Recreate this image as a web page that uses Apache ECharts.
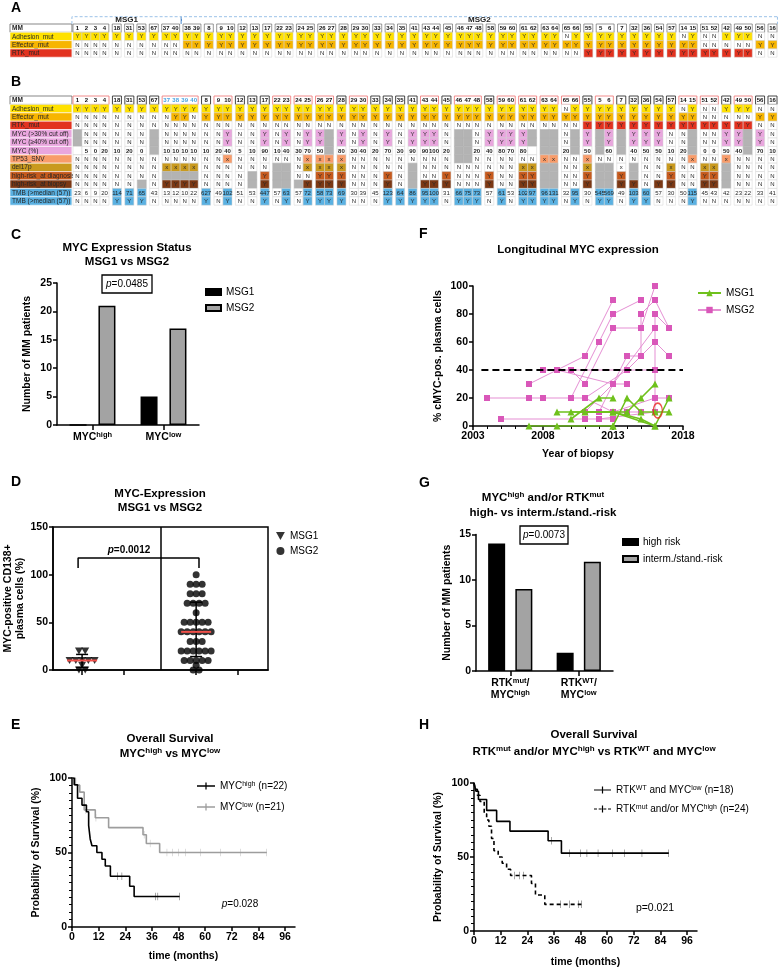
<!DOCTYPE html>
<html>
<head>
<meta charset="utf-8">
<title>MYC / RTK multi-panel figure</title>
<script src="https://cdn.jsdelivr.net/npm/echarts@6.0.0/dist/echarts.min.js"></script>
<style>
html,body{margin:0;padding:0;background:#fff;}
#chart{width:778px;height:970px;}
</style>
</head>
<body>
<div id="chart"></div>
<script>
// ================= DATA =================
// Panel A / B : patient columns (grouped by patient)
const mmGroupsB = [[1,2,3,4],[18],[31],[53],[67],[37,38,39,40],[8],[9,10],[12],[13],[17],[22,23],[24,25],[26,27],[28],[29,30],[33],[34],[35],[41],[43,44],[45],[46,47,48],[58],[59,60],[61,62],[63,64],[65,66],[55],[5,6],[7],[32],[36],[54],[57],[14,15],[51,52],[42],[49,50],[56],[16]];
const mmGroupsA = [[1,2,3,4],[18],[31],[53],[67],[37,40],[38,39],[8],[9,10],[12],[13],[17],[22,23],[24,25],[26,27],[28],[29,30],[33],[34],[35],[41],[43,44],[45],[46,47,48],[58],[59,60],[61,62],[63,64],[65,66],[55],[5,6],[7],[32],[36],[54],[57],[14,15],[51,52],[42],[49,50],[56],[16]];
const msg1Ids = [1,2,3,4,18,31,53,67,37,40];
const rowLabelsA = ['Adhesion_mut','Effector_mut','RTK_mut'];
const rowLabelsB = ['Adhesion_mut','Effector_mut','RTK_mut','MYC (>30% cut off)','MYC (\u226540% cut off)','MYC (%)','TP53_SNV','del17p','high-risk_at diagnosis','high-risk_at biopsy','TMB (>median (57))','TMB (>median (57))'];
// values in panel-B column order ('G' = not available, '' = empty)
const adhesionMut = ['Y','Y','Y','Y','Y','Y','Y','Y','Y','Y','Y','Y',
 'Y','Y','Y','Y','Y','Y',
 'Y','Y','Y','Y','Y','Y','Y','Y','Y',
 'Y','Y','Y','Y','Y','Y','Y',
 'Y','Y','Y','Y','Y','Y','Y','Y','Y','Y','N','Y',
 'Y','Y','Y','Y','Y','Y','Y','Y',
 'N','Y','N','N','Y','Y','Y','N','N'];
const effectorMut = ['N','N','N','N','N','N','N','N','N','Y','Y','N',
 'Y','Y','Y','Y','Y','Y',
 'Y','Y','Y','Y','Y','Y','Y','Y','Y',
 'Y','Y','Y','Y','Y','Y','Y',
 'Y','Y','Y','Y','Y','Y','Y','Y','Y','Y','Y','Y',
 'Y','Y','Y','Y','Y','Y','Y','Y',
 'Y','Y','N','N','N','N','N','Y','Y'];
const rtkMut = ['N','N','N','N','N','N','N','N','N','N','N','N',
 'N','N','N','N','N','N',
 'N','N','N','N','N','N','N','N','N',
 'N','N','N','N','N','N','N',
 'N','N','N','N','N','N','N','N','N','N','N','N',
 'Y','Y','Y','Y','Y','Y','Y','Y',
 'Y','Y','Y','Y','Y','Y','Y','N','N'];
const myc30 = ['G','N','N','N','N','N','N','G','N','N','N','N',
 'N','N','Y','N','N','Y',
 'N','Y','N','Y','Y','G','Y','N','Y',
 'N','Y','N','Y','Y','Y','N',
 'G','G','N','Y','Y','Y','Y','G','G','G','N','G',
 'Y','G','Y','G','Y','Y','Y','N',
 'N','G','N','N','Y','Y','G','Y','N'];
const myc40 = ['G','N','N','N','N','N','N','G','N','N','N','N',
 'N','N','Y','N','N','Y',
 'N','Y','N','Y','Y','G','Y','N','Y',
 'N','Y','N','Y','Y','Y','N',
 'G','G','N','Y','Y','Y','Y','G','G','G','N','G',
 'Y','G','Y','G','Y','Y','Y','N',
 'N','G','N','N','Y','Y','G','Y','N'];
const mycPct = ['','5','0','20','10','20','0','G','10','10','10','10',
 '10','20','40','5','10','90',
 '10','40','30','70','50','G','80','30','40',
 '20','70','30','90','90','100','20',
 'G','G','20','40','80','70','80','','G','G','20','G',
 '50','G','60','G','40','50','50','10',
 '20','G','0','0','50','40','G','70','10'];
const tp53 = ['N','N','N','N','N','N','N','N','N','N','N','N',
 'N','N','x','N','N','N',
 'N','N','N','x','x','x','x','N','N',
 'N','N','N','N','N','N','N',
 'G','G','N','N','N','N','N','N','x','x','N','N',
 'x','N','N','N','N','N','N','N',
 'N','x','N','N','x','N','N','N','N'];
const del17p = ['N','N','N','N','N','N','N','N','x','x','x','x',
 'N','N','N','N','N','N',
 'G','G','N','x','x','x','x','N','N',
 'N','N','N','G','N','N','N',
 'N','N','N','N','N','N','x','x','G','G','N','N',
 'x','G','G','X','G','N','N','x',
 'N','N','x','x','G','N','N','N','N'];
const hrDiag = ['N','N','N','N','N','N','N','N','G','G','G','G',
 'N','N','N','N','G','Y',
 'G','G','N','N','Y','Y','Y','N','N',
 'N','Y','N','G','N','N','Y',
 'N','N','N','Y','N','N','Y','Y','G','G','N','N',
 'Y','G','G','Y','G','N','N','Y',
 'N','N','Y','Y','G','N','N','N','N'];
const hrBiopsy = ['N','N','N','N','N','N','G','N','Y','Y','Y','Y',
 'N','N','N','N','G','Y',
 'G','G','G','Y','Y','Y','Y','N','N',
 'N','Y','N','G','Y','Y','Y',
 'N','N','N','Y','N','N','Y','Y','G','G','N','N',
 'Y','G','G','Y','Y','N','Y','Y',
 'N','N','Y','Y','G','N','N','N','N'];
const tmb = [23,6,9,20,114,71,65,43,13,12,10,22,
 627,49,102,51,53,447,
 57,63,57,72,58,73,69,30,39,
 45,123,64,86,95,100,31,
 66,75,73,57,61,53,102,97,96,131,32,95,
 30,545,569,49,103,60,57,30,
 50,115,45,43,42,23,22,33,41];
const tmbMedian = 57;

// Panel C
const cCats = ['high','low'];
const cMsg1 = [0,5];
const cMsg2 = [21,17];
// Panel D
const dMsg1 = [5,0,20,10,20,0,10,10,10,10];
const dMsg2 = [10,20,40,5,10,90,10,40,30,70,50,80,30,40,20,70,30,90,90,100,20,20,40,80,70,80,20,50,60,40,50,50,10,20,0,0,50,40,70,10];
const dGroupX = [1,3];
// Panel E  (drops: [month, survival %], censored: months)
const eHighDrops = [[1,95.5],[2.5,86.4],[4.5,81.8],[6.5,77.3],[7.5,68.2],[8.2,59.1],[9,54.5],[11.2,50],[13.5,45.5],[15,40.9],[17.3,34.1],[26,27.3],[28,20.5]];
const eHighCens = [20.5,22.5,37.5,38.7,48.5];
const eLowDrops = [[1.5,95.2],[3.5,90.5],[5.5,78.6],[10.5,73.3],[16.5,66.7],[32,61.9],[33.5,56],[39.5,50]];
const eLowCens = [6.2,10.8,32.5,35.2,42.8,45.3,48,51.3,57.8,66.8,75.8,87.8];
const kmTicks = [0,12,24,36,48,60,72,84,96];
// Panel F  (trajectories: [year, % cMYC+])
const fMsg2 = [
 [[2004,20],[2007,20],[2008,20],[2010,20],[2011,20],[2013,10],[2016,20],[2017,20]],
 [[2005,5],[2011,5],[2012,5],[2013,5]],
 [[2007,30],[2011,50],[2013,90]],
 [[2008,40],[2009,40],[2013,30],[2014,30]],
 [[2010,40],[2011,30],[2013,70],[2015,70],[2016,100]],
 [[2009,40],[2014,40],[2016,40]],
 [[2010,20],[2012,60],[2013,80],[2015,90]],
 [[2011,10],[2013,30],[2016,70]],
 [[2012,10],[2014,50],[2015,50],[2015,70],[2015,80],[2016,90],[2017,70]],
 [[2011,20],[2014,40],[2016,60],[2017,50]],
 [[2012,5],[2016,10],[2016,20],[2016,40],[2016,80],[2017,70]],
 [[2013,10],[2014,10],[2015,10]]
];
const fMsg1 = [
 [[2007,0],[2009,0],[2013,0]],
 [[2009,10],[2013,10],[2016,0]],
 [[2010,5],[2012,20],[2013,20]],
 [[2010,10],[2014,10],[2015,20],[2016,30]],
 [[2011,10],[2013,10],[2015,5],[2016,0],[2017,20]],
 [[2013,0],[2014,20],[2015,10],[2016,10],[2017,10]]
];
const fThreshold = 40;
const fHighlight = [[2016.2,11]];
// Panel G
const gCats = ['mut|high','WT|low'];
const gHigh = [14,2];
const gInterm = [9,12];
// Panel H
const hWtDrops = [[0.9,94.4],[2,88.9],[5.7,81.5],[10.2,74.1],[16.2,67.5],[33.4,61],[39.4,52.6]];
const hWtCens = [34.9,43.1,47.9,50.9,55.9,62.3,67.9,75.7,87.8];
const hMutDrops = [[0.5,95.8],[1.5,91.7],[2.7,87.5],[4.6,79.2],[5.7,75],[6.7,70.8],[7.9,62.5],[9,54.2],[10.9,50],[12.7,45.8],[14.7,41.7],[16.5,37.5],[25.9,32.1],[27.7,24.3],[31.9,18]];
const hMutCens = [18.4,20.4,22.2,38.9,43.1,47.2,48.4];

// ================= HELPERS =================
const FONT = '"Liberation Sans", Arial, Helvetica, sans-serif';
const GAP = 0.38, DATA_PX = 704, LABEL_PX = 63;
const ROW_FILL = ['#ffffff','#ffe100','#f7b500','#e2321f','#e9a6de','#e9a6de','#e9a6de','#f89c6a','#c99a1e','#c65a1d','#7b3814','#5ab1e2','#5ab1e2'];
const GRAY = '#b3b3b3';
const TICK_SYMBOL = 'path://M0,0h3v14h-3z';
const TRI_DOWN = 'path://M0,0L10,0L5,9Z';
const LEG_SOLID = 'path://M0,4.3h20v1.4h-20zM9.3,1h1.4v8h-1.4z';
const LEG_DASH = 'path://M0,4.3h3.5v1.4h-3.5zM5.5,4.3h3.5v1.4h-3.5zM11,4.3h3.5v1.4h-3.5zM16.5,4.3h3.5v1.4h-3.5zM9.3,1h1.4v8h-1.4z';

function layoutCols(groups){
  const pos = {}, gl = [], ids = []; let x = 0;
  groups.forEach((g, gi) => {
    const start = x;
    g.forEach(id => { pos[id] = x; ids.push(id); x += 1; });
    gl.push({start, ids: g});
    if (gi < groups.length - 1) x += GAP;
  });
  return {pos, groups: gl, ids, total: x};
}
function cellSpec(ri, v){
  if (v === 'G') return {fill: GRAY, stroke: GRAY, t: ''};
  if (v === '') return {fill: '#fff', t: ''};
  if (ri === 6) return {fill: '#fff', t: String(v), bold: true};
  if (ri === 11) return {fill: v > tmbMedian ? ROW_FILL[11] : '#fff', t: String(v)};
  if (v === 'Y' || v === 'x') return {fill: ROW_FILL[ri], t: v};
  if (v === 'X') return {fill: '#fff', t: 'x'};
  return {fill: '#fff', t: v};
}
function buildTable(groups, labels, rows, hdr){
  const L = layoutCols(groups);
  const ppu = DATA_PX / L.total;
  const xmin = -LABEL_PX / ppu;
  const cells = [], data = [];
  const add = (x0, r, info) => { cells.push(info); data.push([x0, r, cells.length - 1]); };
  const labW = -0.12 - xmin;
  add(xmin, 0, {w: labW, fill: '#fff', stroke: '#555', lw: 0.7, texts: [{left: true, t: 'MM', bold: true, size: 6.5}]});
  L.groups.forEach(g => {
    add(g.start, 0, {w: g.ids.length, fill: '#fff', stroke: hdr.stroke(g.ids), lw: hdr.lw,
      texts: g.ids.map((id, k) => ({u: g.start + k + 0.5, t: String(id), bold: true, color: hdr.color(id)}))});
  });
  rows.forEach((row, k) => {
    const r = k + 1;
    add(xmin, r, {w: labW, fill: ROW_FILL[row.style], stroke: '#fff', lw: 0.6, texts: [{left: true, t: labels[k], size: 6.5}]});
    row.vals.forEach((v, i) => {
      const id = L.ids[i];
      const s = cellSpec(row.style, v);
      add(L.pos[id], r, {w: 1, fill: s.fill, stroke: s.stroke || '#d2d2d2', lw: 0.5,
        texts: s.t ? [{u: L.pos[id] + 0.5, t: s.t, bold: s.bold}] : []});
    });
  });
  return {L, xmin, cells, data, add};
}
function cellRenderer(cells){
  return function(params, api){
    const c = cells[api.value(2)];
    const x0 = api.value(0), r = api.value(1);
    const a = api.coord([x0, r]), b = api.coord([x0 + c.w, r + 1]);
    const w = b[0] - a[0], h = b[1] - a[1];
    const ch = [];
    if (c.bracket) {
      ch.push({type: 'polyline', shape: {points: [[a[0], b[1]], [a[0], a[1] + 1], [b[0], a[1] + 1]]},
        style: {stroke: '#9cc2e8', lineWidth: 1, lineDash: [3, 2], fill: 'none'}});
      if (c.bracket === 'solidRight') ch.push({type: 'line', shape: {x1: b[0], y1: a[1] + 1, x2: b[0], y2: b[1]}, style: {stroke: '#4f86c6', lineWidth: 1.3}});
      else ch.push({type: 'line', shape: {x1: b[0], y1: a[1] + 1, x2: b[0], y2: b[1]}, style: {stroke: '#9cc2e8', lineWidth: 1, lineDash: [3, 2]}});
    } else {
      ch.push({type: 'rect', shape: {x: a[0], y: a[1], width: w, height: h}, style: {fill: c.fill, stroke: c.stroke, lineWidth: c.lw}});
    }
    (c.texts || []).forEach(t => {
      const cx = t.left ? a[0] + 2 : api.coord([t.u, r])[0];
      ch.push({type: 'text', x: cx, y: a[1] + h / 2 + 0.3,
        style: {text: t.t, fill: t.color || '#262626', font: (t.bold ? 'bold ' : '') + (t.size || 6) + 'px ' + FONT,
          align: t.left ? 'left' : 'center', verticalAlign: 'middle'}});
    });
    return {type: 'group', children: ch};
  };
}

// ----- build tables -----
const idsB = mmGroupsB.flat();
const idxB = {}; idsB.forEach((id, i) => { idxB[id] = i; });
const tmbYN = tmb.map(v => v > tmbMedian ? 'Y' : 'N');
const tableB = buildTable(mmGroupsB, rowLabelsB, [
  {style: 1, vals: adhesionMut}, {style: 2, vals: effectorMut}, {style: 3, vals: rtkMut},
  {style: 4, vals: myc30}, {style: 5, vals: myc40}, {style: 6, vals: mycPct},
  {style: 7, vals: tp53}, {style: 8, vals: del17p}, {style: 9, vals: hrDiag}, {style: 10, vals: hrBiopsy},
  {style: 11, vals: tmb}, {style: 12, vals: tmbYN}
], {stroke: ids => ids.length > 1 ? '#ef8080' : '#333', lw: 0.9, color: id => (id >= 37 && id <= 40) ? '#4aa3e0' : '#111'});
const idsA = mmGroupsA.flat();
const pick = arr => idsA.map(id => arr[idxB[id]]);
const tableA = buildTable(mmGroupsA, rowLabelsA, [
  {style: 1, vals: pick(adhesionMut)}, {style: 2, vals: pick(effectorMut)}, {style: 3, vals: pick(rtkMut)}
], {stroke: () => '#555', lw: 0.6, color: () => '#111'});
// MSG brackets (row -1 of table A)
(function(){
  const L = tableA.L;
  const firstMsg2 = L.ids.find(id => msg1Ids.indexOf(id) < 0);
  const div = L.pos[firstMsg2] - GAP / 2;
  const s1 = -0.12, e2 = L.total + 0.05;
  tableA.add(s1, -1, {w: div - s1, bracket: 'solidRight', texts: [{u: (s1 + div) / 2, t: 'MSG1', bold: true, size: 8, color: '#222'}]});
  tableA.add(div, -1, {w: e2 - div, bracket: 'dashedRight', texts: [{u: (div + e2) / 2, t: 'MSG2', bold: true, size: 8, color: '#222'}]});
})();

// ----- panel D helpers -----
function swarm(vals, cx, step){
  const cnt = {}, seen = {};
  vals.forEach(v => { cnt[v] = (cnt[v] || 0) + 1; });
  return vals.map(v => { const k = seen[v] = (seen[v] === undefined ? 0 : seen[v] + 1); return [cx + (k - (cnt[v] - 1) / 2) * step, v]; });
}
const mean = a => a.reduce((s, v) => s + v, 0) / a.length;
const sd = a => { const m = mean(a); return Math.sqrt(a.reduce((s, v) => s + (v - m) * (v - m), 0) / (a.length - 1)); };
const median = a => { const s = a.slice().sort((x, y) => x - y); const n = s.length; return n % 2 ? s[(n - 1) / 2] : (s[n / 2 - 1] + s[n / 2]) / 2; };
const dXmin = 0.49, dXmax = 4.26;
const dTicks = [1, 1.735, 3, 3.735];
const dBracket = [[0.93, 107], [0.93, 117.5], [3.05, 117.5], [3.05, 107]];

// ----- KM helper -----
function kmData(drops, cens){
  const ev = drops.map(d => ({t: d[0], s: d[1]})).concat(cens.map(t => ({t, c: true}))).sort((a, b) => a.t - b.t);
  let cur = 100; const out = [{value: [0, 100], symbol: 'none'}];
  ev.forEach(e => { if (e.c) out.push({value: [e.t, cur]}); else { cur = e.s; out.push({value: [e.t, cur], symbol: 'none'}); } });
  return out;
}

// ----- axes helpers -----
function merge(base, extra){
  const o = JSON.parse(JSON.stringify(base));
  Object.keys(extra || {}).forEach(k => {
    const v = extra[k];
    if (v && typeof v === 'object' && !Array.isArray(v) && typeof o[k] === 'object' && o[k] && !Array.isArray(o[k])) o[k] = Object.assign({}, o[k], v);
    else o[k] = v;
  });
  return o;
}
const AXB = {
  axisLine: {show: true, onZero: false, lineStyle: {color: '#000', width: 1.5}},
  axisTick: {show: true, inside: false, length: 4, lineStyle: {color: '#000', width: 1.5}},
  axisLabel: {show: true, color: '#000', fontSize: 10.5, fontWeight: 'bold', fontFamily: FONT, margin: 5},
  splitLine: {show: false},
  nameTextStyle: {color: '#000', fontSize: 10.5, fontWeight: 'bold', fontFamily: FONT, lineHeight: 12}
};
const ax = (gi, extra) => Object.assign(merge(AXB, extra), {gridIndex: gi});
const RICH = {
  b: {fontSize: 10.5, fontWeight: 'bold', fontFamily: FONT, color: '#000', lineHeight: 12},
  s: {fontSize: 7.5, fontFamily: FONT, color: '#000', verticalAlign: 'top', lineHeight: 12}
};

const xAxes = [
  {gridIndex: 0, type: 'value', min: tableA.xmin, max: tableA.L.total, show: false},
  {gridIndex: 1, type: 'value', min: tableB.xmin, max: tableB.L.total, show: false},
  ax(2, {type: 'category', data: cCats, axisTick: {alignWithLabel: true, length: 5}, axisLabel: {margin: 6, interval: 0}}),
  ax(3, {type: 'value', min: dXmin, max: dXmax, axisLabel: {show: false}, axisTick: {customValues: dTicks, length: 5}}),
  ax(4, {type: 'value', min: 0, max: 100.5, axisLabel: {customValues: kmTicks}, axisTick: {customValues: kmTicks}, name: 'time (months)', nameLocation: 'middle', nameGap: 23}),
  ax(5, {type: 'value', min: 2003, max: 2018, interval: 5, minorTick: {show: true, splitNumber: 5, length: 3, lineStyle: {color: '#000', width: 1}}, name: 'Year of biopsy', nameLocation: 'middle', nameGap: 22}),
  ax(6, {type: 'category', data: gCats, axisTick: {alignWithLabel: true, length: 5}, axisLabel: {margin: 6, interval: 0}}),
  ax(7, {type: 'value', min: 0, max: 100.5, axisLabel: {customValues: kmTicks}, axisTick: {customValues: kmTicks}, name: 'time (months)', nameLocation: 'middle', nameGap: 25})
];
xAxes[2].axisLabel.formatter = v => '{b|MYC}{s|' + v + '}';
xAxes[2].axisLabel.rich = RICH;
xAxes[5].axisLabel.formatter = v => String(v);
xAxes[6].axisLabel.formatter = v => { const p = v.split('|'); return '{b|RTK}{s|' + p[0] + '}{b|/}\n{b|MYC}{s|' + p[1] + '}'; };
xAxes[6].axisLabel.rich = RICH;
const kmY = {type: 'value', min: 0, max: 100, interval: 50, minorTick: {show: true, splitNumber: 10, length: 3, lineStyle: {color: '#000', width: 1}}, name: 'Probability of Survival (%)', nameLocation: 'middle', nameGap: 30};
const yAxes = [
  {gridIndex: 0, type: 'value', min: -1, max: 4, inverse: true, show: false},
  {gridIndex: 1, type: 'value', min: 0, max: 13, inverse: true, show: false},
  ax(2, {type: 'value', min: 0, max: 25, interval: 5, name: 'Number of MM patients', nameLocation: 'middle', nameGap: 24}),
  ax(3, {type: 'value', min: 0, max: 150, interval: 50, name: 'MYC-positive CD138+\nplasma cells (%)', nameLocation: 'middle', nameGap: 26}),
  ax(4, kmY),
  ax(5, {type: 'value', min: 0, max: 100, interval: 20, name: '% cMYC-pos. plasma cells', nameLocation: 'middle', nameGap: 29}),
  ax(6, {type: 'value', min: 0, max: 15, interval: 5, name: 'Number of MM patients', nameLocation: 'middle', nameGap: 23}),
  ax(7, kmY)
];

// ----- series -----
const series = [];
series.push({type: 'custom', name: 'tableA', xAxisIndex: 0, yAxisIndex: 0, data: tableA.data, encode: {x: 0, y: 1}, renderItem: cellRenderer(tableA.cells), clip: false, silent: true});
series.push({type: 'custom', name: 'tableB', xAxisIndex: 1, yAxisIndex: 1, data: tableB.data, encode: {x: 0, y: 1}, renderItem: cellRenderer(tableB.cells), clip: false, silent: true});
// C
series.push({type: 'bar', name: 'MSG1', xAxisIndex: 2, yAxisIndex: 2, data: cMsg1, barWidth: 17, barGap: '70%', itemStyle: {color: '#000', borderColor: '#000', borderWidth: 1.5}});
series.push({type: 'bar', name: 'MSG2', xAxisIndex: 2, yAxisIndex: 2, data: cMsg2, barWidth: 17, barGap: '70%', itemStyle: {color: '#a3a3a3', borderColor: '#000', borderWidth: 1.5}});
// D
const dStats = [[dGroupX[0], mean(dMsg1), sd(dMsg1), median(dMsg1)], [dGroupX[1], mean(dMsg2), sd(dMsg2), median(dMsg2)]];
series.push({type: 'custom', name: 'errbar', xAxisIndex: 3, yAxisIndex: 3, data: dStats, encode: {x: 0, y: 1}, silent: true, z: 2,
  renderItem: (p, api) => {
    const x = api.value(0), m = api.value(1), s = api.value(2);
    const t = api.coord([x, m + s]), b = api.coord([x, Math.max(0, m - s)]);
    const st = {stroke: '#000', lineWidth: 1.5};
    return {type: 'group', children: [
      {type: 'line', shape: {x1: t[0], y1: t[1], x2: b[0], y2: b[1]}, style: st},
      {type: 'line', shape: {x1: t[0] - 6, y1: t[1], x2: t[0] + 6, y2: t[1]}, style: st},
      {type: 'line', shape: {x1: b[0] - 6, y1: b[1], x2: b[0] + 6, y2: b[1]}, style: st}
    ]};
  }});
series.push({type: 'scatter', name: 'MSG1 ', xAxisIndex: 3, yAxisIndex: 3, data: swarm(dMsg1, dGroupX[0], 0.11), symbol: TRI_DOWN, symbolSize: [8, 7], itemStyle: {color: '#000'}, z: 3});
series.push({type: 'scatter', name: 'MSG2 ', xAxisIndex: 3, yAxisIndex: 3, data: swarm(dMsg2, dGroupX[1], 0.105), symbol: 'circle', symbolSize: 7, itemStyle: {color: '#000'}, z: 3});
series.push({type: 'custom', name: 'median', xAxisIndex: 3, yAxisIndex: 3, data: dStats.map(r => [r[0], r[3]]), encode: {x: 0, y: 1}, silent: true, z: 4,
  renderItem: (p, api) => { const c = api.coord([api.value(0), api.value(1)]); return {type: 'line', shape: {x1: c[0] - 15, y1: c[1], x2: c[0] + 15, y2: c[1]}, style: {stroke: '#f0504a', lineWidth: 2}}; }});
series.push({type: 'line', name: 'pbracket', xAxisIndex: 3, yAxisIndex: 3, data: dBracket, symbol: 'none', silent: true, lineStyle: {color: '#000', width: 1.5}, z: 2,
  markLine: {silent: true, symbol: ['none', 'none'], label: {show: false}, lineStyle: {color: '#000', width: 1.5, type: 'solid'}, data: [{xAxis: (dXmin + dXmax) / 2}]}});
// E
const kmSeries = (name, xi, drops, cens, color, dash, z) => ({type: 'line', name, xAxisIndex: xi, yAxisIndex: xi, step: 'end', data: kmData(drops, cens),
  symbol: TICK_SYMBOL, symbolKeepAspect: true, symbolSize: [1.6, 7.5], showSymbol: true,
  lineStyle: {color, width: 1.6, type: dash || 'solid'}, itemStyle: {color}, z});
series.push(kmSeries('MYChigh (n=22)', 4, eHighDrops, eHighCens, '#000', null, 3));
series.push(kmSeries('MYClow (n=21)', 4, eLowDrops, eLowCens, '#9d9d9d', null, 2));
// F
fMsg2.forEach(tr => series.push({type: 'line', name: 'MSG2  ', xAxisIndex: 5, yAxisIndex: 5, data: tr, symbol: 'rect', symbolSize: 6, lineStyle: {color: '#e58fd3', width: 1}, itemStyle: {color: '#d957b9'}, z: 2}));
fMsg1.forEach(tr => series.push({type: 'line', name: 'MSG1  ', xAxisIndex: 5, yAxisIndex: 5, data: tr, symbol: 'triangle', symbolSize: 7, lineStyle: {color: '#6fc11c', width: 1.6}, itemStyle: {color: '#6fc11c'}, z: 4}));
series.push({type: 'scatter', name: 'highlight', xAxisIndex: 5, yAxisIndex: 5, data: fHighlight, symbol: 'circle', symbolSize: [9, 15], silent: true, z: 5,
  itemStyle: {color: 'rgba(0,0,0,0)', borderColor: '#e8261f', borderWidth: 1.5},
  markLine: {silent: true, symbol: ['none', 'none'], label: {show: false}, lineStyle: {color: '#000', width: 2, type: [7, 4]}, data: [[{coord: [2003.6, fThreshold]}, {coord: [2018, fThreshold]}]]}});
// G
series.push({type: 'bar', name: 'high risk', xAxisIndex: 6, yAxisIndex: 6, data: gHigh, barWidth: 17, barGap: '60%', itemStyle: {color: '#000', borderColor: '#000', borderWidth: 1.5}});
series.push({type: 'bar', name: 'interm./stand.-risk', xAxisIndex: 6, yAxisIndex: 6, data: gInterm, barWidth: 17, barGap: '60%', itemStyle: {color: '#a3a3a3', borderColor: '#000', borderWidth: 1.5}});
// H
series.push(kmSeries('RTKWT and MYClow (n=18)', 7, hWtDrops, hWtCens, '#000', null, 3));
series.push(kmSeries('RTKmut and/or MYChigh (n=24)', 7, hMutDrops, hMutCens, '#000', [4, 3], 3));

// ----- legends -----
const LT = {fontSize: 10, fontFamily: FONT, color: '#000'};
const legRich = {t: {fontSize: 10, fontFamily: FONT, color: '#000'}, s: {fontSize: 7, fontFamily: FONT, color: '#000', verticalAlign: 'top'}};
const legMap = {
  'MYChigh (n=22)': '{t|MYC}{s|high}{t| (n=22)}',
  'MYClow (n=21)': '{t|MYC}{s|low}{t| (n=21)}',
  'RTKWT and MYClow (n=18)': '{t|RTK}{s|WT}{t| and MYC}{s|low}{t| (n=18)}',
  'RTKmut and/or MYChigh (n=24)': '{t|RTK}{s|mut}{t| and/or MYC}{s|high}{t| (n=24)}'
};
const legBase = {orient: 'vertical', selectedMode: false, padding: 0, textStyle: LT, formatter: n => n.trim()};
const legends = [
  Object.assign({}, legBase, {data: ['MSG1', 'MSG2'], left: 205, top: 287, itemWidth: 15, itemHeight: 6, itemGap: 6, icon: 'rect'}),
  Object.assign({}, legBase, {data: ['MSG1 ', 'MSG2 '], left: 276, top: 531, itemWidth: 9, itemHeight: 8, itemGap: 5}),
  Object.assign({}, legBase, {data: [{name: 'MYChigh (n=22)', icon: LEG_SOLID}, {name: 'MYClow (n=21)', icon: LEG_SOLID}], left: 197, top: 781, itemWidth: 18, itemHeight: 8, itemGap: 11, formatter: n => legMap[n], textStyle: Object.assign({}, LT, {rich: legRich})}),
  Object.assign({}, legBase, {data: ['MSG1  ', 'MSG2  '], left: 697, top: 288, itemWidth: 23, itemHeight: 8, itemGap: 7}),
  Object.assign({}, legBase, {data: ['high risk', 'interm./stand.-risk'], left: 622, top: 537, itemWidth: 15, itemHeight: 6, itemGap: 7, icon: 'rect'}),
  Object.assign({}, legBase, {data: [{name: 'RTKWT and MYClow (n=18)', icon: LEG_SOLID}, {name: 'RTKmut and/or MYChigh (n=24)', icon: LEG_DASH}], left: 594, top: 785, itemWidth: 17, itemHeight: 8, itemGap: 9, formatter: n => legMap[n], textStyle: Object.assign({}, LT, {rich: legRich})})
];

// ----- text graphics -----
const TR = {
  b: {fontSize: 11.5, fontWeight: 'bold', fontFamily: FONT, fill: '#000', lineHeight: 15},
  s: {fontSize: 8, fontWeight: 'bold', fontFamily: FONT, fill: '#000', verticalAlign: 'top', lineHeight: 15},
  i: {fontSize: 10, fontStyle: 'italic', fontFamily: FONT, fill: '#000'},
  n: {fontSize: 10, fontFamily: FONT, fill: '#000'},
  ib: {fontSize: 10, fontStyle: 'italic', fontWeight: 'bold', fontFamily: FONT, fill: '#000'},
  nb: {fontSize: 10, fontWeight: 'bold', fontFamily: FONT, fill: '#000'}
};
const txt = (x, y, text, extra) => ({type: 'text', x, y, silent: true, z: 100,
  style: Object.assign({text, fill: '#000', fontFamily: FONT, fontSize: 11.5, fontWeight: 'bold', align: 'center', verticalAlign: 'middle', rich: TR}, extra || {})});
const graphics = [];
[['A', 11, 8], ['B', 11, 82], ['C', 11, 235], ['D', 11, 482], ['E', 11, 725], ['F', 419, 234], ['G', 419, 483], ['H', 419, 725]]
  .forEach(l => graphics.push(txt(l[1], l[2], l[0], {fontSize: 14, align: 'left'})));
graphics.push(txt(127, 248, 'MYC Expression Status'));
graphics.push(txt(127, 262, 'MSG1 vs MSG2'));
graphics.push(txt(160, 494, 'MYC-Expression'));
graphics.push(txt(160, 508, 'MSG1 vs MSG2'));
graphics.push(txt(170, 739, 'Overall Survival'));
graphics.push(txt(170, 754, '{b|MYC}{s|high}{b| vs MYC}{s|low}'));
graphics.push(txt(578, 250, 'Longitudinal MYC expression'));
graphics.push(txt(543, 498, '{b|MYC}{s|high}{b| and/or RTK}{s|mut}'));
graphics.push(txt(543, 513, 'high- vs interm./stand.-risk'));
graphics.push(txt(594, 735, 'Overall Survival'));
graphics.push(txt(594, 752, '{b|RTK}{s|mut}{b| and/or MYC}{s|high}{b| vs RTK}{s|WT}{b| and MYC}{s|low}'));
// p-values
graphics.push({type: 'rect', shape: {x: 102, y: 275, width: 50, height: 18}, style: {fill: 'none', stroke: '#000', lineWidth: 1.3}, silent: true});
graphics.push(txt(127, 284.5, '{i|p}{n|=0.0485}', {fontWeight: 'normal', fontSize: 10}));
graphics.push({type: 'rect', shape: {x: 520, y: 526, width: 48, height: 18}, style: {fill: 'none', stroke: '#000', lineWidth: 1.3}, silent: true});
graphics.push(txt(544, 535.5, '{i|p}{n|=0.0073}', {fontWeight: 'normal', fontSize: 10}));
graphics.push(txt(129, 550, '{ib|p}{nb|=0.0012}', {fontSize: 10}));
graphics.push(txt(240, 904, '{i|p}{n|=0.028}', {fontWeight: 'normal', fontSize: 10.5}));
graphics.push(txt(655, 908, 'p=0.021', {fontWeight: 'normal', fontSize: 10.5}));

// ================= CHART =================
const grids = [
  {left: 10, top: 15.7, width: 767, height: 41.5},
  {left: 10, top: 96, width: 767, height: 109.2},
  {left: 57, top: 283, width: 142, height: 142},
  {left: 53, top: 527, width: 215, height: 143, show: true, borderColor: '#000', borderWidth: 1.5, backgroundColor: 'transparent'},
  {left: 72, top: 778, width: 223, height: 149},
  {left: 473, top: 286, width: 210, height: 140},
  {left: 476, top: 534.5, width: 137, height: 136.5},
  {left: 474, top: 783, width: 223, height: 148}
].map(g => Object.assign({containLabel: false, outerBoundsMode: 'none'}, g));

const chart = echarts.init(document.getElementById('chart'), null, {renderer: 'canvas', width: 778, height: 970});
chart.setOption({
  animation: false,
  backgroundColor: '#fff',
  textStyle: {fontFamily: FONT},
  grid: grids,
  xAxis: xAxes,
  yAxis: yAxes,
  legend: legends,
  tooltip: {show: false},
  series: series,
  graphic: graphics
});
</script>
</body>
</html>
